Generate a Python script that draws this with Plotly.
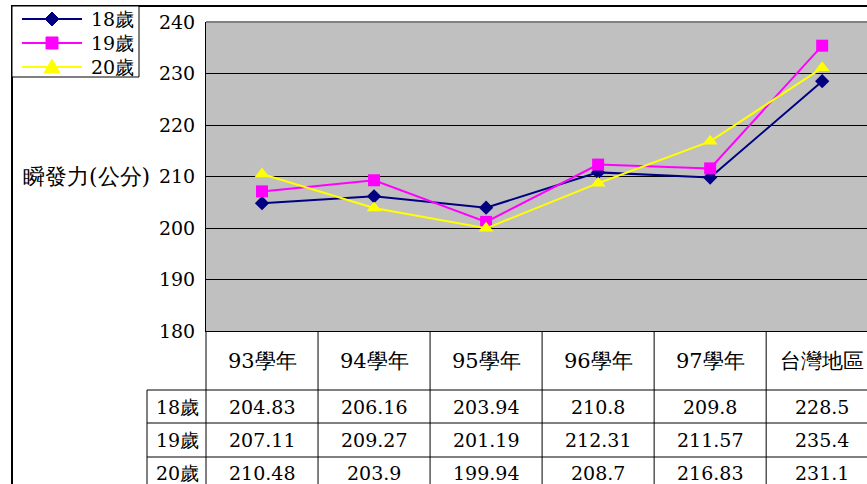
import plotly.graph_objects as go

categories = ["93學年", "94學年", "95學年", "96學年", "97學年", "台灣地區"]
series_names = ["18歲", "19歲", "20歲"]
age18 = [204.83, 206.16, 203.94, 210.8, 209.8, 228.5]
age19 = [207.11, 209.27, 201.19, 212.31, 211.57, 235.4]
age20 = [210.48, 203.9, 199.94, 208.7, 216.83, 231.1]
y_ticks = [180, 190, 200, 210, 220, 230, 240]
y_title = "瞬發力(公分)"

colors = ["#000080", "#FF00FF", "#FFFF00"]
symbols = ["diamond", "square", "triangle-up"]
msizes = [11, 12, 13]

W, H = 867, 484
L, T = 206, 22
PW, PH = 661, 309
XR = [-0.5, 5.4]
FONT = "DejaVu Serif"
FS = 19


def px(xp):
    return (xp - L) / PW


def py(yp):
    return (T + PH - yp) / PH


fig = go.Figure()
for name, vals, c, s, ms in zip(series_names, [age18, age19, age20], colors, symbols, msizes):
    fig.add_trace(go.Scatter(
        x=categories, y=vals, name=name, mode="lines+markers",
        line=dict(color=c, width=2),
        marker=dict(symbol=s, size=ms, color=c),
        cliponaxis=False, showlegend=False,
    ))

shapes = []
shapes.append(dict(type="line", xref="paper", yref="paper", x0=px(11), x1=px(W + 5), y0=py(6), y1=py(6),
                   line=dict(color="black", width=2)))
shapes.append(dict(type="line", xref="paper", yref="paper", x0=px(12), x1=px(12), y0=py(5), y1=py(H + 5),
                   line=dict(color="black", width=2)))
shapes.append(dict(type="line", xref="paper", yref="paper", x0=0, x1=1, y0=1, y1=1,
                   line=dict(color="#808080", width=2)))

row_bounds = [390, 423, 457]
for yb in row_bounds:
    shapes.append(dict(type="line", xref="paper", yref="paper", x0=px(147), x1=px(W + 5), y0=py(yb), y1=py(yb),
                       line=dict(color="black", width=1)))
shapes.append(dict(type="line", xref="paper", yref="paper", x0=px(147), x1=px(147), y0=py(390), y1=py(H + 5),
                   line=dict(color="black", width=1)))
shapes.append(dict(type="line", xref="paper", yref="paper", x0=0, x1=0, y0=0, y1=py(H + 5),
                   line=dict(color="black", width=1)))
for i in range(1, len(categories)):
    xb = (i - 0.5 - XR[0]) / (XR[1] - XR[0])
    shapes.append(dict(type="line", xref="paper", yref="paper", x0=xb, x1=xb, y0=0, y1=py(H + 5),
                       line=dict(color="black", width=1)))

shapes.append(dict(type="rect", xref="paper", yref="paper", x0=px(12), x1=px(139), y0=py(6), y1=py(77),
                   line=dict(color="black", width=1), fillcolor="white", layer="above"))
leg_y = [19, 43, 67]
for name, c, s, yc in zip(series_names, colors, symbols, leg_y):
    shapes.append(dict(type="line", xref="paper", yref="paper", x0=px(22), x1=px(82), y0=py(yc), y1=py(yc),
                       line=dict(color=c, width=2), layer="above"))
    cx = 52
    if s == "diamond":
        pts = [(cx, yc - 7), (cx + 7, yc), (cx, yc + 7), (cx - 7, yc)]
    elif s == "square":
        pts = [(cx - 6, yc - 6), (cx + 6, yc - 6), (cx + 6, yc + 6), (cx - 6, yc + 6)]
    else:
        pts = [(cx, yc - 8), (cx + 8, yc + 6), (cx - 8, yc + 6)]
    path = "M " + " L ".join(f"{px(a):.5f},{py(b):.5f}" for a, b in pts) + " Z"
    shapes.append(dict(type="path", xref="paper", yref="paper", path=path, fillcolor=c,
                       line=dict(color=c, width=1), layer="above"))

annotations = []
for name, yc in zip(series_names, leg_y):
    annotations.append(dict(x=px(89), xref="paper", y=py(yc), yref="paper", text=name, showarrow=False,
                            font=dict(family=FONT, size=FS, color="black"), xanchor="left", yanchor="middle"))
for c in categories:
    annotations.append(dict(x=c, xref="x", y=py(361), yref="paper", text=c, showarrow=False,
                            font=dict(family=FONT, size=21, color="black"), xanchor="center", yanchor="middle"))
row_centers = [407, 440, 473]
for name, vals, yc in zip(series_names, [age18, age19, age20], row_centers):
    annotations.append(dict(x=px(177), xref="paper", y=py(yc), yref="paper", text=name, showarrow=False,
                            font=dict(family=FONT, size=FS, color="black"), xanchor="center", yanchor="middle"))
    for c, v in zip(categories, vals):
        annotations.append(dict(x=c, xref="x", y=py(yc), yref="paper", text=f"{v:g}", showarrow=False,
                                font=dict(family=FONT, size=FS, color="black"), xanchor="center", yanchor="middle"))
annotations.append(dict(x=px(152), xref="paper", y=210, yref="y", text=y_title, showarrow=False,
                        font=dict(family=FONT, size=22, color="black"), xanchor="right", yanchor="middle"))

fig.update_layout(
    width=W, height=H,
    margin=dict(l=L, r=W - L - PW, t=T, b=H - T - PH, pad=0),
    paper_bgcolor="white", plot_bgcolor="#C0C0C0",
    font=dict(family=FONT, size=FS, color="black"),
    showlegend=False,
    shapes=shapes, annotations=annotations,
    xaxis=dict(range=XR, showgrid=False, showticklabels=False, ticks="", showline=True,
               linecolor="black", linewidth=1, zeroline=False),
    yaxis=dict(range=[y_ticks[0], y_ticks[-1]], tickvals=y_ticks, showgrid=True, gridcolor="black",
               gridwidth=1, showline=True, linecolor="black", linewidth=1, ticks="", zeroline=False,
               tickfont=dict(family=FONT, size=FS), ticklabelstandoff=6),
)

fig.write_html("out.html", config={"displayModeBar": False},
               post_script="document.body.style.margin='0';document.body.style.overflow='hidden';")
